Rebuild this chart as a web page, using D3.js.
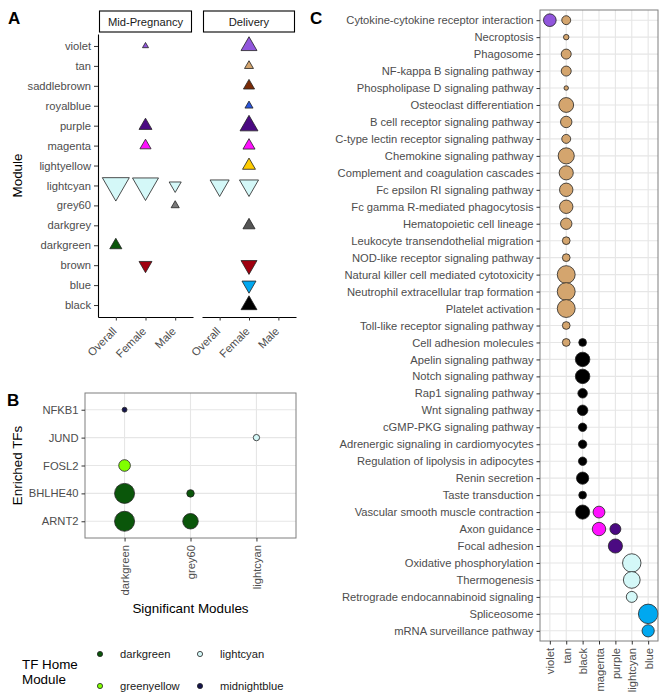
<!DOCTYPE html>
<html>
<head>
<meta charset="utf-8">
<script src="https://cdn.jsdelivr.net/npm/d3@7"></script>
<style>
  body { margin: 0; background: #fff; }
  text { font-family: "Liberation Sans", Arial, sans-serif; }
</style>
</head>
<body>
<div id="chart"></div>
<script>
// ---------- data ----------
// panel A: module / trait associations (sign = direction, magnitude = marker size)
const modules = ["violet", "tan", "saddlebrown", "royalblue", "purple", "magenta", "lightyellow",
    "lightcyan", "grey60", "darkgrey", "darkgreen", "brown", "blue", "black"];
const groups = ["Overall", "Female", "Male"];
const stages = ["Mid-Pregnancy", "Delivery"];
const moduleHits = [
    ["Mid-Pregnancy", "Female", "violet", 5],
    ["Mid-Pregnancy", "Female", "purple", 23],
    ["Mid-Pregnancy", "Female", "magenta", 17],
    ["Mid-Pregnancy", "Overall", "lightcyan", -100],
    ["Mid-Pregnancy", "Female", "lightcyan", -93],
    ["Mid-Pregnancy", "Male", "lightcyan", -20],
    ["Mid-Pregnancy", "Male", "grey60", 9],
    ["Mid-Pregnancy", "Overall", "darkgreen", 20],
    ["Mid-Pregnancy", "Female", "brown", -23],
    ["Delivery", "Female", "violet", 35],
    ["Delivery", "Female", "tan", 11],
    ["Delivery", "Female", "saddlebrown", 17],
    ["Delivery", "Female", "royalblue", 9],
    ["Delivery", "Female", "purple", 44],
    ["Delivery", "Female", "magenta", 20],
    ["Delivery", "Female", "lightyellow", 23],
    ["Delivery", "Overall", "lightcyan", -50],
    ["Delivery", "Female", "lightcyan", -50],
    ["Delivery", "Female", "darkgrey", 20],
    ["Delivery", "Female", "brown", -35],
    ["Delivery", "Female", "blue", -27],
    ["Delivery", "Female", "black", 35]
];

// panel B: enriched TFs
const tfs = ["NFKB1", "JUND", "FOSL2", "BHLHE40", "ARNT2"];
const sigModules = ["darkgreen", "grey60", "lightcyan"];
const homeModules = ["darkgreen", "greenyellow", "lightcyan", "midnightblue"];
const tfHits = [
    ["NFKB1", "darkgreen", "midnightblue", 3],
    ["JUND", "lightcyan", "lightcyan", 5],
    ["FOSL2", "darkgreen", "greenyellow", 17],
    ["BHLHE40", "darkgreen", "darkgreen", 50],
    ["BHLHE40", "grey60", "darkgreen", 7],
    ["ARNT2", "darkgreen", "darkgreen", 50],
    ["ARNT2", "grey60", "darkgreen", 30]
];

// panel C: KEGG pathways per module
const pathways = ["Cytokine-cytokine receptor interaction", "Necroptosis", "Phagosome",
    "NF-kappa B signaling pathway", "Phospholipase D signaling pathway", "Osteoclast differentiation",
    "B cell receptor signaling pathway", "C-type lectin receptor signaling pathway",
    "Chemokine signaling pathway", "Complement and coagulation cascades",
    "Fc epsilon RI signaling pathway", "Fc gamma R-mediated phagocytosis",
    "Hematopoietic cell lineage", "Leukocyte transendothelial migration",
    "NOD-like receptor signaling pathway", "Natural killer cell mediated cytotoxicity",
    "Neutrophil extracellular trap formation", "Platelet activation",
    "Toll-like receptor signaling pathway", "Cell adhesion molecules", "Apelin signaling pathway",
    "Notch signaling pathway", "Rap1 signaling pathway", "Wnt signaling pathway",
    "cGMP-PKG signaling pathway", "Adrenergic signaling in cardiomyocytes",
    "Regulation of lipolysis in adipocytes", "Renin secretion", "Taste transduction",
    "Vascular smooth muscle contraction", "Axon guidance", "Focal adhesion",
    "Oxidative phosphorylation", "Thermogenesis", "Retrograde endocannabinoid signaling",
    "Spliceosome", "mRNA surveillance pathway"];
const pathModules = ["violet", "tan", "black", "magenta", "purple", "lightcyan", "blue"];
const pathHits = [
    ["Cytokine-cytokine receptor interaction", "violet", 16],
    ["Cytokine-cytokine receptor interaction", "tan", 8],
    ["Necroptosis", "tan", 3],
    ["Phagosome", "tan", 10],
    ["NF-kappa B signaling pathway", "tan", 10],
    ["Phospholipase D signaling pathway", "tan", 2],
    ["Osteoclast differentiation", "tan", 22],
    ["B cell receptor signaling pathway", "tan", 13],
    ["C-type lectin receptor signaling pathway", "tan", 8],
    ["Chemokine signaling pathway", "tan", 26],
    ["Complement and coagulation cascades", "tan", 20],
    ["Fc epsilon RI signaling pathway", "tan", 18],
    ["Fc gamma R-mediated phagocytosis", "tan", 18],
    ["Hematopoietic cell lineage", "tan", 13],
    ["Leukocyte transendothelial migration", "tan", 6],
    ["NOD-like receptor signaling pathway", "tan", 6],
    ["Natural killer cell mediated cytotoxicity", "tan", 32],
    ["Neutrophil extracellular trap formation", "tan", 32],
    ["Platelet activation", "tan", 32],
    ["Toll-like receptor signaling pathway", "tan", 6],
    ["Cell adhesion molecules", "tan", 6],
    ["Cell adhesion molecules", "black", 6],
    ["Apelin signaling pathway", "black", 21],
    ["Notch signaling pathway", "black", 21],
    ["Rap1 signaling pathway", "black", 9],
    ["Wnt signaling pathway", "black", 11],
    ["cGMP-PKG signaling pathway", "black", 7],
    ["Adrenergic signaling in cardiomyocytes", "black", 7],
    ["Regulation of lipolysis in adipocytes", "black", 7],
    ["Renin secretion", "black", 15],
    ["Taste transduction", "black", 6],
    ["Vascular smooth muscle contraction", "black", 20],
    ["Vascular smooth muscle contraction", "magenta", 14],
    ["Axon guidance", "magenta", 18],
    ["Axon guidance", "purple", 12],
    ["Focal adhesion", "purple", 20],
    ["Oxidative phosphorylation", "lightcyan", 34],
    ["Thermogenesis", "lightcyan", 28],
    ["Retrograde endocannabinoid signaling", "lightcyan", 12],
    ["Spliceosome", "blue", 38],
    ["mRNA surveillance pathway", "blue", 15]
];

// module colours as drawn
const fillOf = {
    violet: "#9156dc", tan: "#d4a56e", saddlebrown: "#7a2b06", royalblue: "#2a55dc",
    purple: "#4b0a82", magenta: "#ff10ff", lightyellow: "#ffcc00", lightcyan: "#d4f8f8",
    grey60: "#7a7a7a", darkgrey: "#555555", darkgreen: "#0a560a", brown: "#a0000f",
    blue: "#00a8f0", black: "#000000", greenyellow: "#80ff00", midnightblue: "#15154c"
};

// ---------- drawing ----------
const W = 667, H = 700;
const tickGrey = "#4d4d4d";
const svg = d3.select("#chart").append("svg")
    .attr("width", W).attr("height", H);
svg.append("rect").attr("width", W).attr("height", H).attr("fill", "#fff");

function letter(txt, x, y) {
    svg.append("text").attr("x", x).attr("y", y).text(txt)
        .attr("font-size", 17).attr("font-weight", "bold").attr("fill", "#000");
}
function styleTicks(g) {
    g.selectAll("text").attr("fill", tickGrey).attr("font-size", 11.2)
        .attr("font-family", "Liberation Sans, Arial, sans-serif");
    g.selectAll(".tick line").attr("stroke", "#333");
}

/* ===== Panel A ===== */
letter("A", 8, 24);
const aTop = 34, aBottom = 317;
const facetX = { "Mid-Pregnancy": [98, 193], "Delivery": [202, 296] };
const yA = d3.scalePoint().domain(modules).range([aTop, aBottom]).padding(0.6);
const widthA = d3.scaleSqrt().domain([0, 100]).range([0, 27]);

stages.forEach((stage, i) => {
    const [x0, x1] = facetX[stage];
    const x = d3.scalePoint().domain(groups).range([x0, x1]).padding(0.6);

    // strip
    svg.append("rect").attr("x", x0 + 1.5).attr("y", 11).attr("width", x1 - x0 - 3).attr("height", 21)
        .attr("fill", "#fff").attr("stroke", "#000").attr("stroke-width", 1.1);
    svg.append("text").attr("x", (x0 + x1) / 2).attr("y", 25.5).attr("text-anchor", "middle")
        .attr("font-size", 11.2).attr("fill", "#1a1a1a").text(stage);

    // bottom axis
    const gx = svg.append("g").attr("transform", `translate(0,${aBottom})`)
        .call(d3.axisBottom(x).tickSize(3.5).tickSizeOuter(0));
    gx.select(".domain").attr("stroke", "#000").attr("stroke-width", 1.1);
    styleTicks(gx);
    gx.selectAll("text")
        .attr("text-anchor", "end")
        .attr("dy", 0).attr("y", 0)
        .attr("transform", "translate(1,15) rotate(-45)");

    if (i === 0) {
        const gy = svg.append("g").attr("transform", `translate(${x0},0)`)
            .call(d3.axisLeft(yA).tickSize(4).tickPadding(3).tickSizeOuter(0));
        gy.select(".domain").attr("stroke", "#000").attr("stroke-width", 1.1);
        styleTicks(gy);
    }

    svg.append("g").selectAll("path")
        .data(moduleHits.filter(d => d[0] === stage))
        .join("path")
        .attr("d", d => {
            const w = widthA(Math.abs(d[3]));
            return d3.symbol(d3.symbolTriangle, Math.sqrt(3) / 4 * w * w)();
        })
        .attr("transform", d => `translate(${x(d[1])},${yA(d[2])})` + (d[3] < 0 ? " rotate(180)" : ""))
        .attr("fill", d => fillOf[d[2]])
        .attr("stroke", "#222").attr("stroke-width", 0.8);
});

svg.append("text").attr("transform", `translate(22,${(aTop + aBottom) / 2}) rotate(-90)`)
    .attr("text-anchor", "middle").attr("font-size", 13.4).attr("fill", "#000").text("Module");

/* ===== Panel B ===== */
letter("B", 7, 406);
const bL = 85, bR = 296, bT = 393, bB = 538;
const xB = d3.scalePoint().domain(sigModules).range([bL, bR]).padding(0.6);
const yB = d3.scalePoint().domain(tfs).range([bT, bB]).padding(0.6);
const rB = d3.scaleSqrt().domain([0, 50]).range([0, 10]);

// grid
svg.append("g").selectAll("line").data(sigModules).join("line")
    .attr("x1", d => xB(d)).attr("x2", d => xB(d)).attr("y1", bT).attr("y2", bB)
    .attr("stroke", "#e6e6e6").attr("stroke-width", 1.1);
svg.append("g").selectAll("line").data(tfs).join("line")
    .attr("x1", bL).attr("x2", bR).attr("y1", d => yB(d)).attr("y2", d => yB(d))
    .attr("stroke", "#e6e6e6").attr("stroke-width", 1.1);

svg.append("g").selectAll("circle").data(tfHits).join("circle")
    .attr("cx", d => xB(d[1])).attr("cy", d => yB(d[0])).attr("r", d => rB(d[3]))
    .attr("fill", d => fillOf[d[2]]).attr("stroke", "#222").attr("stroke-width", 0.8);

svg.append("rect").attr("x", bL).attr("y", bT).attr("width", bR - bL).attr("height", bB - bT)
    .attr("fill", "none").attr("stroke", "#7f7f7f").attr("stroke-width", 1);

const gyB = svg.append("g").attr("transform", `translate(${bL},0)`)
    .call(d3.axisLeft(yB).tickSize(3.5).tickPadding(3).tickSizeOuter(0));
gyB.select(".domain").remove();
styleTicks(gyB);

const gxB = svg.append("g").attr("transform", `translate(0,${bB})`)
    .call(d3.axisBottom(xB).tickSize(3.5).tickSizeOuter(0));
gxB.select(".domain").remove();
styleTicks(gxB);
gxB.selectAll("text").attr("text-anchor", "end").attr("dy", 0).attr("y", 0)
    .attr("transform", "translate(4,7) rotate(-90)");

svg.append("text").attr("transform", `translate(22,${(bT + bB) / 2}) rotate(-90)`)
    .attr("text-anchor", "middle").attr("font-size", 13.4).attr("fill", "#000").text("Enriched TFs");
svg.append("text").attr("x", (bL + bR) / 2).attr("y", 613).attr("text-anchor", "middle")
    .attr("font-size", 13.4).attr("fill", "#000").text("Significant Modules");

// legend
const legTitle = svg.append("text").attr("x", 22).attr("y", 669).attr("font-size", 13.4).attr("fill", "#000");
legTitle.append("tspan").attr("x", 22).text("TF Home");
legTitle.append("tspan").attr("x", 22).attr("dy", 15).text("Module");
const legCol = d3.scaleOrdinal().domain(homeModules).range([100, 100, 200, 200]);
const legRow = d3.scaleOrdinal().domain(homeModules).range([654, 686, 654, 686]);
const leg = svg.append("g").selectAll("g").data(homeModules).join("g")
    .attr("transform", d => `translate(${legCol(d)},${legRow(d)})`);
leg.append("circle").attr("r", 2.6).attr("fill", d => fillOf[d])
    .attr("stroke", "#222").attr("stroke-width", 0.8);
leg.append("text").attr("x", 20).attr("y", 4).attr("font-size", 11.2).attr("fill", "#1a1a1a").text(d => d);

/* ===== Panel C ===== */
letter("C", 310, 24);
const cL = 540, cR = 658, cT = 10, cB = 641;
const xC = d3.scalePoint().domain(pathModules).range([cL, cR]).padding(0.6);
const yC = d3.scalePoint().domain(pathways).range([cT, cB]).padding(0.6);
const rC = d3.scaleSqrt().domain([0, 40]).range([0, 10]);

svg.append("g").selectAll("line").data(pathModules).join("line")
    .attr("x1", d => xC(d)).attr("x2", d => xC(d)).attr("y1", cT).attr("y2", cB)
    .attr("stroke", "#e6e6e6").attr("stroke-width", 1.1);
svg.append("g").selectAll("line").data(pathways).join("line")
    .attr("x1", cL).attr("x2", cR).attr("y1", d => yC(d)).attr("y2", d => yC(d))
    .attr("stroke", "#e6e6e6").attr("stroke-width", 1.1);

svg.append("g").selectAll("circle").data(pathHits).join("circle")
    .attr("cx", d => xC(d[1])).attr("cy", d => yC(d[0])).attr("r", d => rC(d[2]))
    .attr("fill", d => fillOf[d[1]]).attr("stroke", "#222").attr("stroke-width", 0.8);

svg.append("rect").attr("x", cL).attr("y", cT).attr("width", cR - cL).attr("height", cB - cT)
    .attr("fill", "none").attr("stroke", "#7f7f7f").attr("stroke-width", 1);

const gyC = svg.append("g").attr("transform", `translate(${cL},0)`)
    .call(d3.axisLeft(yC).tickSize(3.5).tickPadding(3).tickSizeOuter(0));
gyC.select(".domain").remove();
styleTicks(gyC);

const gxC = svg.append("g").attr("transform", `translate(0,${cB})`)
    .call(d3.axisBottom(xC).tickSize(3.5).tickSizeOuter(0));
gxC.select(".domain").remove();
styleTicks(gxC);
gxC.selectAll("text").attr("text-anchor", "end").attr("dy", 0).attr("y", 0)
    .attr("transform", "translate(4,7) rotate(-90)");
</script>
</body>
</html>
